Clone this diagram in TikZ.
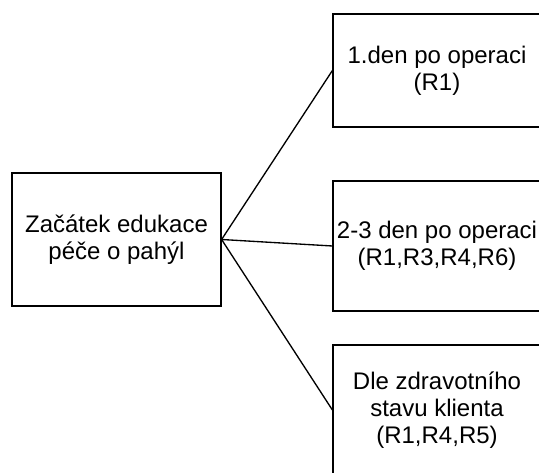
\documentclass[tikz,border=0pt]{standalone}
\usepackage{fontspec}
\setmainfont{Liberation Sans}
\begin{document}
\begin{tikzpicture}[x=0.75pt,y=-0.75pt,
  box/.style={draw, line width=0.9pt, inner sep=0pt, align=center,
    font=\fontsize{18}{20.5}\selectfont},
  link/.style={line width=1pt}]
\useasboundingbox (0,0) rectangle (539,473);
% start box
\node[box, minimum width=156.75pt, minimum height=99.75pt] (start) at (116.5,239.5)
  {Začátek edukace\\péče o pahýl};
% the three follow-up boxes (they run past the right edge)
\node[box, minimum width=156pt, minimum height=84.75pt] (d1) at (437,70.5)
  {1.den po operaci\\(R1)};
\node[box, minimum width=156pt, minimum height=97.5pt] (d2) at (437,246)
  {2-3 den po operaci\\(R1,R3,R4,R6)};
\node[box, minimum width=156pt, minimum height=97.5pt] (d3) at (437,410)
  {Dle zdravotního\\stavu klienta\\(R1,R4,R5)};
% connectors
\draw[link] (start.east) -- (d1.west);
\draw[link] (start.east) -- (d2.west);
\draw[link] (start.east) -- (d3.west);
\end{tikzpicture}
\end{document}
